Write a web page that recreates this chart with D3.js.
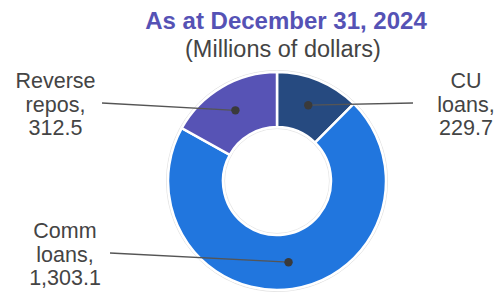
<!DOCTYPE html>
<html><head><meta charset="utf-8">
<script src="https://cdn.jsdelivr.net/npm/d3@7"></script>
<style>body{margin:0;background:#fff}svg{display:block}</style>
</head><body>
<svg id="c" width="497" height="293"></svg>
<script>
const categories = ["CU loans", "Comm loans", "Reverse repos"];
const labelLines = [["CU", "loans,", "229.7"], ["Comm", "loans,", "1,303.1"], ["Reverse", "repos,", "312.5"]];
const values = [229.7, 1303.1, 312.5];
const colors = ["#264a80", "#2176de", "#5753b5"];
const titleText = "As at December 31, 2024";
const subtitleText = "(Millions of dollars)";

const svg = d3.select("#c");
const cx = 277, cy = 181, rOuter = 109, rInner = 54, rDot = 82;
const labelPos = [
  {lx: 466, ly: 88, ex: 413, ey: 103},
  {lx: 65, ly: 238, ex: 110, ey: 253},
  {lx: 55.5, ly: 88, ex: 102, ey: 103}
];
const font = "Liberation Sans, Arial, sans-serif";

svg.append("text").attr("x", 286).attr("y", 29).attr("text-anchor", "middle")
  .attr("font-family", font).attr("font-weight", "bold")
  .attr("font-size", 24).attr("fill", "#5552b5").text(titleText);
svg.append("text").attr("x", 283).attr("y", 57).attr("text-anchor", "middle")
  .attr("font-family", font)
  .attr("font-size", 23.5).attr("fill", "#444").text(subtitleText);

const g = svg.append("g").attr("transform", `translate(${cx},${cy})`);
const pie = d3.pie().sort(null).value(d => d)(values);
const arc = d3.arc().innerRadius(rInner).outerRadius(rOuter);

g.append("circle").attr("r", rOuter + 1.5).attr("fill", "none").attr("stroke", "#e2e2e2").attr("stroke-width", 1);
g.append("circle").attr("r", rInner - 1.5).attr("fill", "none").attr("stroke", "#e8e8e8").attr("stroke-width", 1);

g.selectAll("path.s").data(pie).join("path").attr("class", "s")
  .attr("d", arc).attr("fill", (d, i) => colors[i])
  .attr("stroke", "#fff").attr("stroke-width", 2.5);

const dotArc = d3.arc().innerRadius(rDot).outerRadius(rDot);
pie.forEach((d, i) => {
  const [px, py] = dotArc.centroid(d);
  const lp = labelPos[i];
  g.append("line").attr("x1", px).attr("y1", py)
    .attr("x2", lp.ex - cx).attr("y2", lp.ey - cy)
    .attr("stroke", "#555").attr("stroke-width", 1.3);
  g.append("circle").attr("cx", px).attr("cy", py).attr("r", 4.2).attr("fill", "#3a3a3a");
  const t = svg.append("text").attr("text-anchor", "middle")
    .attr("font-family", font)
    .attr("font-size", 21.5).attr("fill", "#444");
  labelLines[i].forEach((s, j) => {
    t.append("tspan").attr("x", lp.lx).attr("y", lp.ly + j * 23.5).text(s);
  });
});
</script>
</body></html>
